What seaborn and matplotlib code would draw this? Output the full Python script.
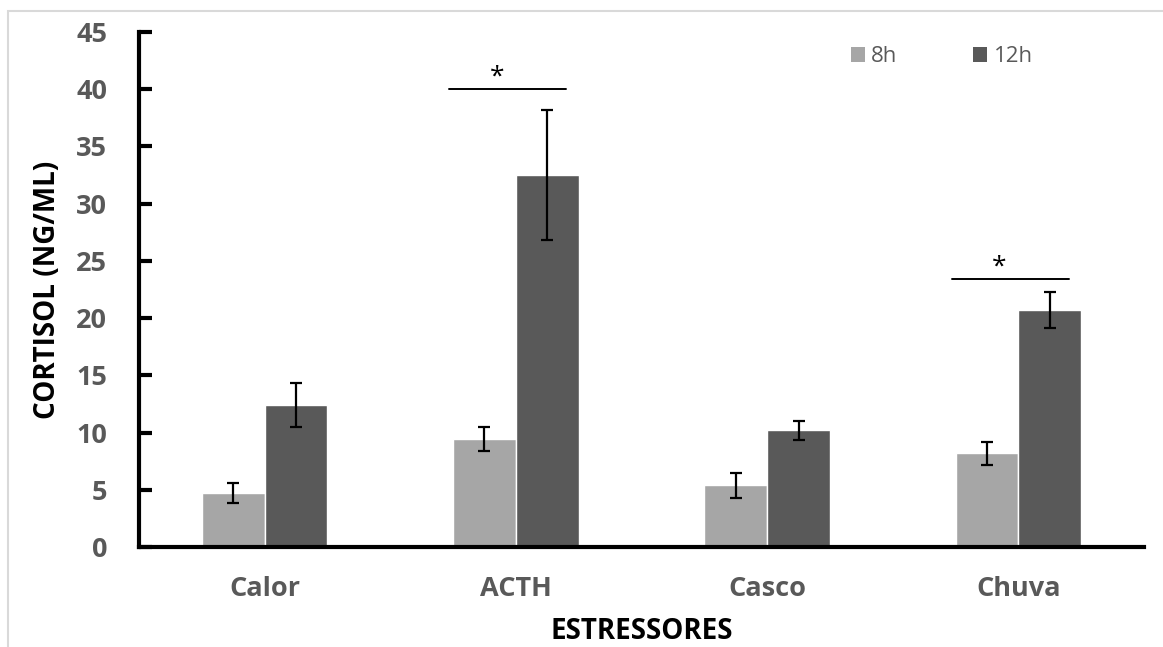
import matplotlib
matplotlib.use("Agg")
import matplotlib.pyplot as plt
import seaborn as sns
import pandas as pd
import numpy as np
from matplotlib.patches import Rectangle, Patch

categories = ["Calor", "ACTH", "Casco", "Chuva"]
groups = ["8h", "12h"]
values_8h = [4.7, 9.4, 5.4, 8.2]
values_12h = [12.4, 32.5, 10.2, 20.7]
err_8h = [0.85, 1.05, 1.1, 1.0]
err_12h = [1.95, 5.7, 0.85, 1.6]
sig_categories = ["ACTH", "Chuva"]
sig_heights = [40.0, 23.4]
y_ticks = [0, 5, 10, 15, 20, 25, 30, 35, 40, 45]

colors = {"8h": "#a6a6a6", "12h": "#595959"}
tick_color = "#595959"

df = pd.DataFrame({
    "Estressor": categories * 2,
    "Grupo": ["8h"] * len(categories) + ["12h"] * len(categories),
    "Cortisol": values_8h + values_12h,
})

sns.set_theme(style="white")
plt.rcParams["font.family"] = ["Open Sans", "DejaVu Sans"]

fig = plt.figure(figsize=(11.63, 6.47), dpi=100)
ax = fig.add_axes([139 / 1163, 100 / 647, (1144 - 139) / 1163, (547 - 32) / 647])

# light frame around the chart area
fig.patches.append(Rectangle((8 / 1163, -0.1), 1.2, (647 - 11) / 647 + 0.1,
                             transform=fig.transFigure, fill=False,
                             edgecolor="#d9d9d9", linewidth=1.5, zorder=0))

sns.barplot(data=df, x="Estressor", y="Cortisol", hue="Grupo",
            order=categories, hue_order=groups, palette=colors,
            width=0.5, gap=0, errorbar=None, saturation=1, ax=ax,
            legend=False)

# error bars at bar centers
n = len(categories)
for gi, (vals, errs) in enumerate([(values_8h, err_8h), (values_12h, err_12h)]):
    patches = ax.patches[gi * n:(gi + 1) * n]
    xs = [p.get_x() + p.get_width() / 2 for p in patches]
    ax.errorbar(xs, vals, yerr=errs, fmt="none", ecolor="black",
                elinewidth=1.6, capsize=4, capthick=1.6, zorder=5)

# significance markers
for cat, h in zip(sig_categories, sig_heights):
    i = categories.index(cat)
    ax.plot([i - 0.265, i + 0.2], [h, h], color="black", lw=1.4,
            clip_on=False)
    ax.text(i - 0.075, h + 0.0, "*", ha="center", va="bottom",
            fontsize=19, color="black")

ax.set_xlim(-0.5, 3.5)
ax.set_ylim(0, 45)
ax.set_yticks(y_ticks)
ax.set_yticklabels([str(t) for t in y_ticks])

for side in ["top", "right"]:
    ax.spines[side].set_visible(False)
for side in ["left", "bottom"]:
    ax.spines[side].set_color("black")
    ax.spines[side].set_linewidth(3)

ax.tick_params(axis="y", direction="in", length=9, width=3, color="black",
               labelsize=19.5, labelcolor=tick_color, pad=23, left=True)
ax.tick_params(axis="x", length=0, labelsize=19.5, labelcolor=tick_color, pad=21)
for lab in ax.get_xticklabels() + ax.get_yticklabels():
    lab.set_fontweight("bold")

ax.set_xlabel("ESTRESSORES", fontsize=20, fontweight="bold", color="black",
              labelpad=11)
ax.set_ylabel("CORTISOL (NG/ML)", fontsize=20, fontweight="bold",
              color="black", labelpad=10)

handles = [Patch(facecolor=colors[g], edgecolor="none", label=g) for g in groups]
leg = ax.legend(handles=handles, loc="upper left", bbox_to_anchor=(0.708, 0.972),
                ncol=2, frameon=False, handlelength=0.63, handleheight=0.63,
                handletextpad=0.3, columnspacing=3.4, fontsize=16,
                labelcolor=tick_color, borderaxespad=0, borderpad=0)

fig.savefig("out.png", dpi=100)
